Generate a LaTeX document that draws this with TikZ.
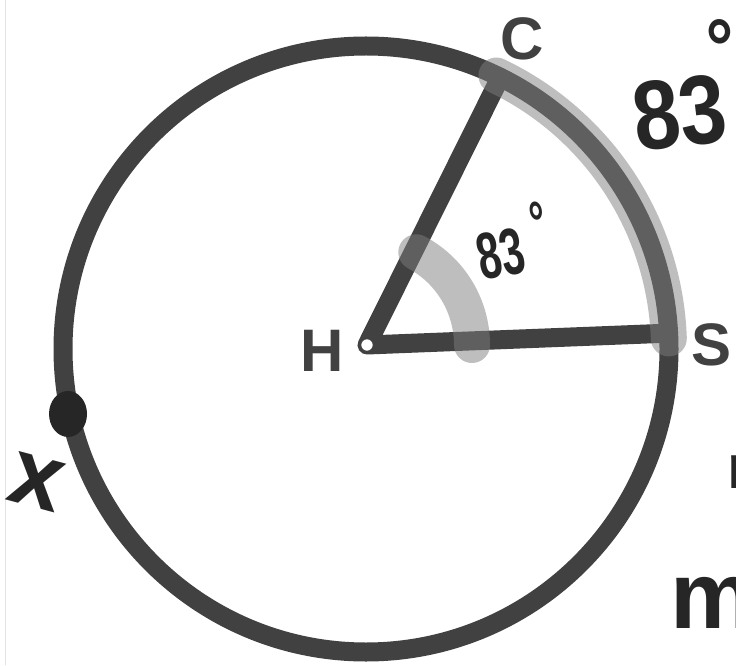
\documentclass[tikz,border=0pt]{standalone}
\usepackage{fontspec}
\setmainfont{Liberation Sans}
\usepackage{tikz}
\usetikzlibrary{calc,positioning}
\definecolor{rimx}{HTML}{414141}
\definecolor{inkx}{HTML}{262626}
\definecolor{hlx}{HTML}{7D7D7D}
\definecolor{edgex}{HTML}{E3E3E3}
\tikzset{
  rim/.style={line width=19pt,rimx},
  seg/.style={line width=19pt,rimx,line cap=round,line join=round},
  hl/.style={line width=36pt,hlx,opacity=0.5,line cap=round},
  lbl/.style={font=\fontsize{60}{60}\selectfont\bfseries,text=rimx,inner sep=0pt},
  hand/.style={text=inkx,inner sep=0pt}
}

\begin{document}
\begin{tikzpicture}[x=1pt,y=1pt]
\useasboundingbox (0,0) rectangle (736,665);
\draw[edgex,line width=1pt] (5,0)--(5,665);
\coordinate (O) at (366,316);
\coordinate (H) at (367,320);
\coordinate (C) at ($(O)+(63.7:303)$);
\coordinate (S) at ($(O)+(3:303)$);
\coordinate (X) at ($(O)+(192.3:305)$);
\draw[rim] (O) circle (303pt);
\draw[seg] (C)--(H)--(S);
\draw[hl] ($(O)+(64.5:303)$) arc[start angle=64.5,end angle=2,radius=303pt];
\draw[hl] ($(H)+(62:105)$) arc[start angle=62,end angle=0,radius=105pt];
\filldraw[fill=white,draw=rimx,line width=1.5pt] (H) circle (6.5pt);
\fill[inkx] (X) ellipse[x radius=19pt,y radius=23pt];
\node[lbl] (Clbl) at (522,626) {C};
\node[lbl] (Hlbl) at (322,314) {H};
\node[lbl] (Slbl) at (712,320) {S};
\node[hand,font=\fontsize{66}{66}\selectfont\bfseries,rotate=12,xscale=0.64,anchor=base west] (angval) at (482,384) {83\kern20pt\raisebox{25pt}{\fontsize{60}{60}\selectfont°}};
\node[hand,font=\fontsize{98}{98}\selectfont\bfseries,rotate=7,xscale=0.86,anchor=base west] (arcval) at (637,513) {83\kern-12pt\raisebox{66pt}{\fontsize{80}{80}\selectfont°}};
\node[hand,font=\fontsize{95}{95}\selectfont\bfseries,rotate=-15] (xlbl) at (37,183) {x};
\node[hand,font=\fontsize{62}{62}\selectfont\bfseries,anchor=west] (nlbl) at (727,193) {n};
\node[hand,font=\fontsize{95}{95}\selectfont\bfseries,anchor=west] (mlbl) at (670,62) {m};
\end{tikzpicture}
\end{document}
